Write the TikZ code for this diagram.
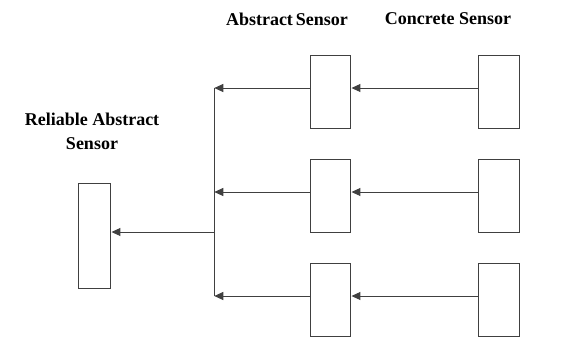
\documentclass[tikz,border=0pt]{standalone}
\usepackage{fontspec}
\setmainfont{Liberation Serif}
\usetikzlibrary{arrows.meta}

\tikzset{
  unit/.style={draw=black!75, line width=1pt, fill=white, inner sep=0pt},
  absbox/.style={unit, minimum width=40.7pt, minimum height=72.6pt},
  relbox/.style={unit, minimum width=32.7pt, minimum height=104.3pt},
  flow/.style={draw=black!75, line width=1pt, -{Triangle[length=9pt,width=8pt]}},
  title/.style={font=\fontsize{18}{24}\selectfont\bfseries, align=center, inner sep=0pt}
}

\begin{document}
\begin{tikzpicture}[x=1pt,y=-1pt]
\useasboundingbox (0,0) rectangle (585,338);

% headings
\node[title] (abstitle) at (287,19) {Abstract\,Sensor};
\node[title] (contitle) at (448,19) {Concrete Sensor};
\node[title] (reltitle) at (92,131) {Reliable Abstract\\Sensor};

% the reliable sensor and the bus feeding it
\node[relbox] (rel) at (94.6,236) {};
\coordinate (busmid) at (214.3,232);

% three concrete -> abstract chains
\foreach \i/\y in {1/92, 2/196, 3/300} {
  \node[absbox] (abs\i) at (330.6,\y) {};
  \node[absbox] (con\i) at (499,\y) {};
  \coordinate (bus\i) at (214.3,\y-4);
  \draw[flow] ([yshift=4pt]con\i.west) -- ([yshift=4pt]abs\i.east);
  \draw[flow] ([yshift=4pt]abs\i.west) -- (bus\i);
}
\draw[draw=black!75, line width=1pt] (bus1) -- (bus3);
\draw[flow] (busmid) -- (rel.east |- busmid);
\end{tikzpicture}
\end{document}
